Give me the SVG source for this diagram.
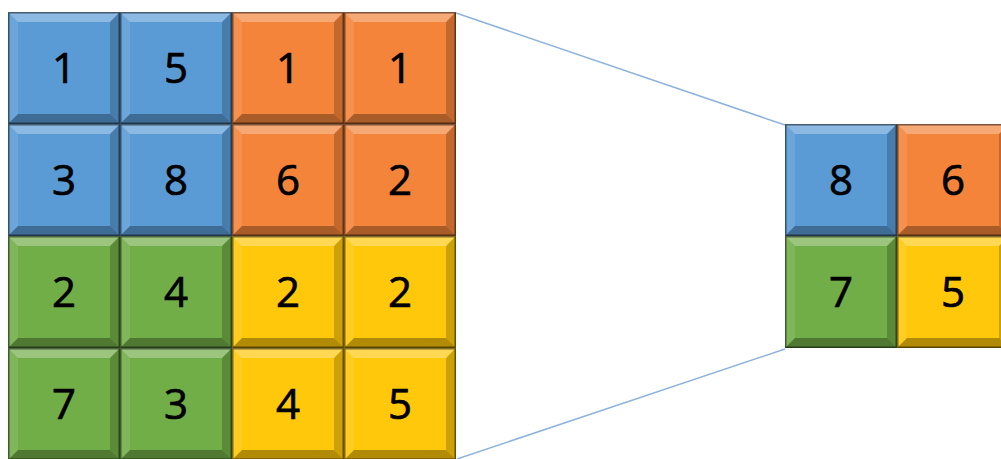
<svg xmlns="http://www.w3.org/2000/svg" xmlns:xlink="http://www.w3.org/1999/xlink" width="1001" height="459" viewBox="0 0 1001 459">
<style>
.b{fill:#5B9BD5}.o{fill:#F4843A}.g{fill:#72AE48}.y{fill:#FFC80A}
.t{font-family:"Open Sans","Liberation Sans",sans-serif;font-size:42px;fill:#000;stroke:#000;stroke-width:0.7;text-anchor:middle}
.conn{stroke:#8DB3DC;stroke-width:1.5;fill:none}
</style>
<defs>
<g id="bev">
<polygon points="0,0 112,0 102,10 10,10" fill="#fff" fill-opacity="0.3"/>
<polygon points="0,0 10,10 10,102 0,112" fill="#fff" fill-opacity="0.1"/>
<polygon points="112,0 112,112 102,102 102,10" fill="#000" fill-opacity="0.2"/>
<polygon points="0,112 112,112 102,102 10,102" fill="#000" fill-opacity="0.3"/>
<rect x="0.75" y="0.75" width="110.5" height="110.5" fill="none" stroke="#000" stroke-opacity="0.5" stroke-width="1.5"/>
</g>
</defs>
<rect width="1001" height="459" fill="#fff"/>
<g id="connectors">
<line class="conn" x1="456" y1="13" x2="785" y2="125"/>
<line class="conn" x1="457" y1="459" x2="785" y2="349"/>
</g>
<g id="input">
<g id="c00"><rect class="b" x="8" y="12" width="112" height="112"/><use href="#bev" x="8" y="12"/><text class="t" x="64" y="83">1</text></g>
<g id="c01"><rect class="b" x="120" y="12" width="112" height="112"/><use href="#bev" x="120" y="12"/><text class="t" x="176" y="83">5</text></g>
<g id="c02"><rect class="o" x="232" y="12" width="112" height="112"/><use href="#bev" x="232" y="12"/><text class="t" x="288" y="83">1</text></g>
<g id="c03"><rect class="o" x="344" y="12" width="112" height="112"/><use href="#bev" x="344" y="12"/><text class="t" x="400" y="83">1</text></g>
<g id="c10"><rect class="b" x="8" y="124" width="112" height="112"/><use href="#bev" x="8" y="124"/><text class="t" x="64" y="195">3</text></g>
<g id="c11"><rect class="b" x="120" y="124" width="112" height="112"/><use href="#bev" x="120" y="124"/><text class="t" x="176" y="195">8</text></g>
<g id="c12"><rect class="o" x="232" y="124" width="112" height="112"/><use href="#bev" x="232" y="124"/><text class="t" x="288" y="195">6</text></g>
<g id="c13"><rect class="o" x="344" y="124" width="112" height="112"/><use href="#bev" x="344" y="124"/><text class="t" x="400" y="195">2</text></g>
<g id="c20"><rect class="g" x="8" y="236" width="112" height="112"/><use href="#bev" x="8" y="236"/><text class="t" x="64" y="307">2</text></g>
<g id="c21"><rect class="g" x="120" y="236" width="112" height="112"/><use href="#bev" x="120" y="236"/><text class="t" x="176" y="307">4</text></g>
<g id="c22"><rect class="y" x="232" y="236" width="112" height="112"/><use href="#bev" x="232" y="236"/><text class="t" x="288" y="307">2</text></g>
<g id="c23"><rect class="y" x="344" y="236" width="112" height="112"/><use href="#bev" x="344" y="236"/><text class="t" x="400" y="307">2</text></g>
<g id="c30"><rect class="g" x="8" y="348" width="112" height="112"/><use href="#bev" x="8" y="348"/><text class="t" x="64" y="419">7</text></g>
<g id="c31"><rect class="g" x="120" y="348" width="112" height="112"/><use href="#bev" x="120" y="348"/><text class="t" x="176" y="419">3</text></g>
<g id="c32"><rect class="y" x="232" y="348" width="112" height="112"/><use href="#bev" x="232" y="348"/><text class="t" x="288" y="419">4</text></g>
<g id="c33"><rect class="y" x="344" y="348" width="112" height="112"/><use href="#bev" x="344" y="348"/><text class="t" x="400" y="419">5</text></g>
</g>
<g id="output">
<g id="p00"><rect class="b" x="785" y="124" width="112" height="112"/><use href="#bev" x="785" y="124"/><text class="t" x="841" y="195">8</text></g>
<g id="p01"><rect class="o" x="897" y="124" width="112" height="112"/><use href="#bev" x="897" y="124"/><text class="t" x="953" y="195">6</text></g>
<g id="p10"><rect class="g" x="785" y="236" width="112" height="112"/><use href="#bev" x="785" y="236"/><text class="t" x="841" y="307">7</text></g>
<g id="p11"><rect class="y" x="897" y="236" width="112" height="112"/><use href="#bev" x="897" y="236"/><text class="t" x="953" y="307">5</text></g>
</g>
</svg>
